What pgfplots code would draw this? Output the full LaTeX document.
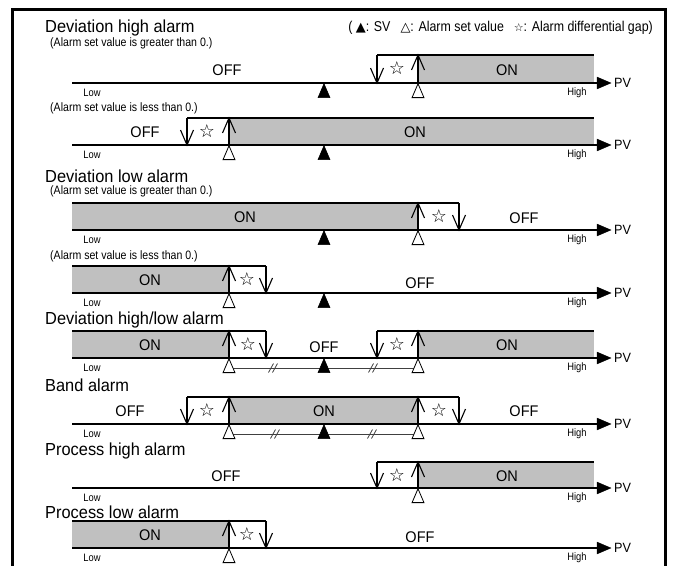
\documentclass[border=0pt]{standalone}
\usepackage{pgfplots}
\pgfplotsset{compat=1.18}
\usepackage{fontspec}
\setmainfont{Liberation Sans}[FakeStretch=0.94]
\newfontfamily\cond{Liberation Sans}[FakeStretch=0.87]
\newfontfamily\sym{DejaVu Sans}
\definecolor{onfill}{RGB}{192,192,192}
\tikzset{ln/.style={black, line width=1.1bp}}
\newcommand\titlefont{\fontsize{17.5}{17.5}\selectfont}
\newcommand\subfont{\cond\fontsize{12.2}{12.2}\selectfont}
\newcommand\onfont{\fontsize{15.5}{15.5}\selectfont}
\newcommand\lowfont{\cond\fontsize{10.8}{10.8}\selectfont}
\newcommand\pvfont{\fontsize{13.5}{13.5}\selectfont}
\newcommand\starfont{\sym\fontsize{18}{18}\selectfont}
\newcommand\legfont{\cond\fontsize{14.3}{14.3}\selectfont}

% axis line with arrow, Low/High/PV labels: #1 = line y
\newcommand\baseaxis[1]{%
 \pgfmathsetmacro\ya{#1-6}\pgfmathsetmacro\yb{#1+6}\pgfmathsetmacro\yt{#1+10}%
 \edef\tmp{\noexpand\addplot[ln] coordinates {(72,#1) (600,#1)};
  \noexpand\addplot[black,fill=black,line width=0.3bp] coordinates {(597,\ya) (611,#1) (597,\yb)} -- cycle;
  \noexpand\node[font=\noexpand\lowfont,inner sep=0pt] at (axis cs:92,\yt) {Low};
  \noexpand\node[font=\noexpand\lowfont,inner sep=0pt] at (axis cs:577,\yt) {High};
  \noexpand\node[font=\noexpand\pvfont,anchor=west,inner sep=0pt] at (axis cs:614,#1) {PV};}%
 \tmp}
% up arrow: x, top, line
\newcommand\uarr[3]{%
 \pgfmathsetmacro\xa{#1-6.5}\pgfmathsetmacro\xb{#1+6.5}\pgfmathsetmacro\yh{#2+15}%
 \edef\tmp{\noexpand\addplot[ln] coordinates {(#1,#3) (#1,#2)};
  \noexpand\addplot[ln] coordinates {(\xa,\yh) (#1,#2) (\xb,\yh)};}%
 \tmp}
% down arrow: x, top, line
\newcommand\darr[3]{%
 \pgfmathsetmacro\xa{#1-6.5}\pgfmathsetmacro\xb{#1+6.5}\pgfmathsetmacro\yh{#3-15}%
 \edef\tmp{\noexpand\addplot[ln] coordinates {(#1,#2) (#1,#3)};
  \noexpand\addplot[ln] coordinates {(\xa,\yh) (#1,#3) (\xb,\yh)};}%
 \tmp}
\newcommand\onbox[4]{\addplot[fill=onfill, draw=none] coordinates {(#1,#3) (#2,#3) (#2,#4) (#1,#4)} -- cycle;}
\newcommand\topline[3]{\addplot[ln] coordinates {(#1,#3) (#2,#3)};}
\newcommand\gapstar[2]{\node[font=\starfont,inner sep=0pt] at (axis cs:#1,#2) {☆};}
\newcommand\svmark[2]{\addplot[only marks, mark=triangle*, mark size=6.9, mark options={yscale=1.35, fill=black, draw=black, line width=0.6bp}] coordinates {(#1,#2)};}
\newcommand\asmark[2]{\addplot[only marks, mark=triangle*, mark size=6.9, mark options={yscale=1.35, fill=white, draw=black, line width=0.8bp}] coordinates {(#1,#2)};}
\newcommand\txt[3]{\node[font=\onfont,inner sep=0pt] at (axis cs:#1,#2) {#3};}
\newcommand\ttl[2]{\node[font=\titlefont,anchor=west,inner sep=0pt] at (axis cs:45,#1) {#2};}
\newcommand\sub[2]{\node[font=\subfont,anchor=west,inner sep=0pt] at (axis cs:50,#1) {#2};}
% line between set values with break marks: y, break1, break2
\newcommand\triline[3]{%
 \addplot[black!75, line width=0.8bp] coordinates {(229,#1) (418,#1)};
 \pgfmathsetmacro\ba{#2-4.5}\pgfmathsetmacro\bb{#2+0.5}\pgfmathsetmacro\bc{#2-0.5}\pgfmathsetmacro\bd{#2+4.5}%
 \pgfmathsetmacro\ca{#3-4.5}\pgfmathsetmacro\cb{#3+0.5}\pgfmathsetmacro\cc{#3-0.5}\pgfmathsetmacro\cd{#3+4.5}%
 \pgfmathsetmacro\ylo{#1+4.5}\pgfmathsetmacro\yhi{#1-4.5}%
 \edef\tmp{\noexpand\addplot[black!75, line width=0.8bp] coordinates {(\ba,\ylo) (\bb,\yhi)};
  \noexpand\addplot[black!75, line width=0.8bp] coordinates {(\bc,\ylo) (\bd,\yhi)};
  \noexpand\addplot[black!75, line width=0.8bp] coordinates {(\ca,\ylo) (\cb,\yhi)};
  \noexpand\addplot[black!75, line width=0.8bp] coordinates {(\cc,\ylo) (\cd,\yhi)};}%
 \tmp}

\begin{document}
\begin{tikzpicture}
\begin{axis}[
  x=1bp, y=1bp, y dir=reverse,
  xmin=0, xmax=673, ymin=0, ymax=566,
  hide axis, clip=false, scale only axis,
]
% frame
\addplot[black, line width=3bp] coordinates {(12,580) (12,10) (665,10) (665,580)};

% ---------- Deviation high alarm ----------
\ttl{27.5}{Deviation high alarm}
\node[font=\legfont,anchor=east,inner sep=0pt] at (axis cs:653,28) {( {\sym\fontsize{13}{13}\selectfont ▲}: SV\hspace{10bp}{\sym\fontsize{13}{13}\selectfont △}: Alarm set value\hspace{10bp}{\sym\fontsize{11}{11}\selectfont ☆}: Alarm differential gap)};
\sub{43.5}{(Alarm set value is greater than 0.)}
% row 1
\onbox{418}{594}{55}{83}
\baseaxis{83}
\topline{377}{594}{55}
\darr{377}{55}{83}
\uarr{418}{55}{83}
\gapstar{397}{68}
\txt{227}{70}{OFF}
\txt{507}{70}{ON}
\svmark{324}{93}
\asmark{418}{93}
% row 2
\sub{108}{(Alarm set value is less than 0.)}
\onbox{229}{594}{118}{145}
\baseaxis{145}
\topline{187}{594}{118}
\darr{187}{118}{145}
\uarr{229}{118}{145}
\gapstar{207}{131}
\txt{145}{132}{OFF}
\txt{415}{132}{ON}
\asmark{229}{155}
\svmark{324}{155}

% ---------- Deviation low alarm ----------
\ttl{176}{Deviation low alarm}
\sub{191}{(Alarm set value is greater than 0.)}
\onbox{72}{418}{203}{230}
\baseaxis{230}
\topline{72}{459}{203}
\uarr{418}{203}{230}
\darr{459}{203}{230}
\gapstar{439}{216}
\txt{245}{217}{ON}
\txt{524}{218}{OFF}
\svmark{324}{240}
\asmark{418}{240}
% row 4
\sub{256}{(Alarm set value is less than 0.)}
\onbox{72}{229}{266}{293}
\baseaxis{293}
\topline{72}{266}{266}
\uarr{229}{266}{293}
\darr{266}{266}{293}
\gapstar{247}{279}
\txt{150}{280}{ON}
\txt{420}{283}{OFF}
\asmark{229}{303}
\svmark{324}{303}

% ---------- Deviation high/low alarm ----------
\ttl{320}{Deviation high/low alarm}
\onbox{72}{229}{331}{358}
\onbox{418}{594}{331}{358}
\baseaxis{358}
\topline{72}{266}{331}
\topline{377}{594}{331}
\uarr{229}{331}{358}
\darr{266}{331}{358}
\darr{377}{331}{358}
\uarr{418}{331}{358}
\gapstar{248}{344}
\gapstar{397}{344}
\txt{150}{345}{ON}
\txt{324}{347}{OFF}
\txt{507}{345}{ON}
\triline{368}{273}{373}
\asmark{229}{368}
\svmark{324}{368}
\asmark{418}{368}

% ---------- Band alarm ----------
\ttl{385}{Band alarm}
\onbox{229}{418}{397}{424}
\baseaxis{424}
\topline{187}{459}{397}
\darr{187}{397}{424}
\uarr{229}{397}{424}
\uarr{418}{397}{424}
\darr{459}{397}{424}
\gapstar{207}{410}
\gapstar{439}{410}
\txt{130}{411}{OFF}
\txt{324}{411}{ON}
\txt{524}{411}{OFF}
\triline{434}{275}{372}
\asmark{229}{434}
\svmark{324}{434}
\asmark{418}{434}

% ---------- Process high alarm ----------
\ttl{451}{Process high alarm}
\onbox{418}{594}{462}{488}
\baseaxis{488}
\topline{377}{594}{462}
\darr{377}{462}{488}
\uarr{418}{462}{488}
\gapstar{397}{475}
\txt{226}{476}{OFF}
\txt{507}{476}{ON}
\asmark{418}{498}

% ---------- Process low alarm ----------
\ttl{512}{Process low alarm}
\onbox{72}{229}{521}{548}
\baseaxis{548}
\topline{72}{266}{521}
\uarr{229}{521}{548}
\darr{266}{521}{548}
\gapstar{247}{534}
\txt{150}{535}{ON}
\txt{420}{537}{OFF}
\asmark{229}{558}

\coordinate (TL) at (axis cs:0,0);
\coordinate (BR) at (axis cs:673,566);
\end{axis}
\pgfresetboundingbox
\path[use as bounding box] (TL) rectangle (BR);
\end{tikzpicture}
\end{document}
